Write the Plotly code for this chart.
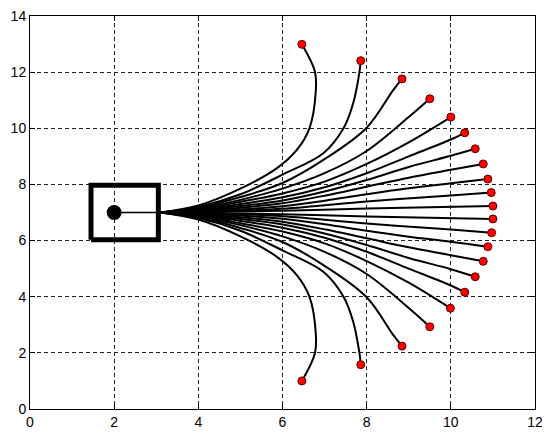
import plotly.graph_objects as go

# Upper trajectories (waypoints)
upper_x = [
    [3.1, 4.0, 5.0, 5.86, 6.34, 6.64, 6.79, 6.77, 6.46],
    [3.1, 4.0, 5.0, 6.0, 6.97, 7.45, 7.68, 7.83, 7.86],
    [3.1, 4.0, 5.0, 6.0, 7.0, 8.0, 8.63, 8.84],
    [3.1, 4.0, 5.0, 6.0, 7.0, 8.0, 9.0, 9.5],
    [3.1, 4.0, 5.0, 6.0, 7.0, 8.0, 9.0, 10.0],
    [3.1, 4.0, 5.0, 6.0, 7.0, 8.0, 9.0, 10.0, 10.33],
    [3.1, 4.0, 5.0, 6.0, 7.0, 8.0, 9.0, 10.0, 10.58],
    [3.1, 4.0, 5.0, 6.0, 7.0, 8.0, 9.0, 10.0, 10.77],
    [3.1, 4.0, 5.0, 6.0, 7.0, 8.0, 9.0, 10.0, 10.88],
    [3.1, 4.0, 6.0, 8.0, 10.0, 10.96],
    [3.1, 6.0, 8.0, 11.0],
]
upper_y = [
    [7.0, 7.25, 7.85, 8.57, 9.23, 10.0, 11.3, 12.02, 12.99],
    [7.0, 7.2, 7.65, 8.35, 9.11, 10.0, 10.89, 12.02, 12.41],
    [7.0, 7.17, 7.55, 8.05, 8.9, 10.02, 11.36, 11.76],
    [7.0, 7.14, 7.45, 7.85, 8.4, 9.19, 10.4, 11.05],
    [7.0, 7.11, 7.38, 7.68, 8.1, 8.73, 9.5, 10.4],
    [7.0, 7.09, 7.3, 7.54, 7.9, 8.4, 9.0, 9.6, 9.84],
    [7.0, 7.07, 7.23, 7.43, 7.75, 8.16, 8.62, 9.02, 9.27],
    [7.0, 7.05, 7.17, 7.33, 7.6, 7.92, 8.24, 8.52, 8.73],
    [7.0, 7.04, 7.11, 7.22, 7.42, 7.65, 7.86, 8.04, 8.19],
    [7.0, 7.02, 7.13, 7.39, 7.61, 7.71],
    [7.0, 7.06, 7.14, 7.23],
]

# Lower trajectories
lower_x = [
    [3.1, 4.0, 5.0, 5.86, 6.34, 6.64, 6.79, 6.77, 6.46],
    [3.1, 4.0, 5.0, 6.0, 6.97, 7.45, 7.68, 7.83, 7.86],
    [3.1, 4.0, 5.0, 6.0, 7.0, 8.0, 8.63, 8.84],
    [3.1, 4.0, 5.0, 6.0, 7.0, 8.0, 9.0, 9.5],
    [3.1, 4.0, 5.0, 6.0, 7.0, 8.0, 9.0, 9.99],
    [3.1, 4.0, 5.0, 6.0, 7.0, 8.0, 9.0, 10.0, 10.33],
    [3.1, 4.0, 5.0, 6.0, 7.0, 8.0, 9.0, 10.0, 10.58],
    [3.1, 4.0, 5.0, 6.0, 7.0, 8.0, 9.0, 10.0, 10.77],
    [3.1, 4.0, 5.0, 6.0, 7.0, 8.0, 9.0, 10.0, 10.88],
    [3.1, 4.0, 6.0, 8.0, 10.0, 10.97],
    [3.1, 6.0, 8.0, 11.0],
]
lower_y = [
    [7.0, 6.75, 6.15, 5.43, 4.77, 4.0, 2.7, 1.98, 1.0],
    [7.0, 6.8, 6.35, 5.65, 4.89, 4.0, 3.11, 1.98, 1.58],
    [7.0, 6.83, 6.45, 5.95, 5.1, 3.98, 2.64, 2.24],
    [7.0, 6.86, 6.55, 6.15, 5.6, 4.81, 3.6, 2.93],
    [7.0, 6.89, 6.62, 6.32, 5.9, 5.27, 4.5, 3.59],
    [7.0, 6.91, 6.7, 6.46, 6.1, 5.6, 5.0, 4.4, 4.16],
    [7.0, 6.93, 6.77, 6.57, 6.25, 5.84, 5.38, 4.98, 4.71],
    [7.0, 6.95, 6.83, 6.67, 6.4, 6.08, 5.76, 5.48, 5.26],
    [7.0, 6.96, 6.89, 6.78, 6.58, 6.35, 6.14, 5.96, 5.78],
    [7.0, 6.98, 6.87, 6.61, 6.39, 6.28],
    [7.0, 6.94, 6.86, 6.77],
]

# Robot body (rectangle), centre point and heading line
box_x = [1.45, 3.05, 3.05, 1.45, 1.45]
box_y = [6.03, 6.03, 7.97, 7.97, 6.03]
robot_x = [2.0]
robot_y = [7.0]
heading_x = [2.0, 3.1]
heading_y = [7.0, 7.0]

x_ticks = [0, 2, 4, 6, 8, 10, 12]
y_ticks = [0, 2, 4, 6, 8, 10, 12, 14]

fig = go.Figure()

paths_x = upper_x + lower_x
paths_y = upper_y + lower_y
for px, py in zip(paths_x, paths_y):
    fig.add_trace(go.Scatter(x=px, y=py, mode="lines",
                             line=dict(color="black", width=2, shape="spline", smoothing=1.0),
                             hoverinfo="skip", showlegend=False))

end_x = [p[-1] for p in paths_x]
end_y = [p[-1] for p in paths_y]

fig.add_trace(go.Scatter(x=box_x, y=box_y, mode="lines",
                         line=dict(color="black", width=5), showlegend=False))
fig.add_trace(go.Scatter(x=heading_x, y=heading_y, mode="lines",
                         line=dict(color="black", width=1.5), showlegend=False))
fig.add_trace(go.Scatter(x=robot_x, y=robot_y, mode="markers",
                         marker=dict(color="black", size=15), showlegend=False))
fig.add_trace(go.Scatter(x=end_x, y=end_y, mode="markers",
                         marker=dict(color="#ff0000", size=8,
                                     line=dict(color="#5a0000", width=1)),
                         showlegend=False))

axis_common = dict(showline=True, linecolor="black", linewidth=1, mirror="ticks",
                   ticks="inside", ticklen=5, tickcolor="black", automargin=False,
                   ticklabeloverflow="allow",
                   showgrid=True, gridcolor="#222222", gridwidth=1, griddash="4px,3px",
                   zeroline=False, tickfont=dict(family="Liberation Sans, Arial", size=14, color="black"))

fig.update_xaxes(range=[0, 12], tickvals=x_ticks, **axis_common)
fig.update_yaxes(range=[0, 14], tickvals=y_ticks, **axis_common)

# the page body adds an 8px offset; the figure is sized to fill the remaining window
fig.update_layout(width=542, height=431, margin=dict(l=22, r=15, t=8, b=30),
                  plot_bgcolor="white", paper_bgcolor="white", showlegend=False)

fig.write_html("out.html")
